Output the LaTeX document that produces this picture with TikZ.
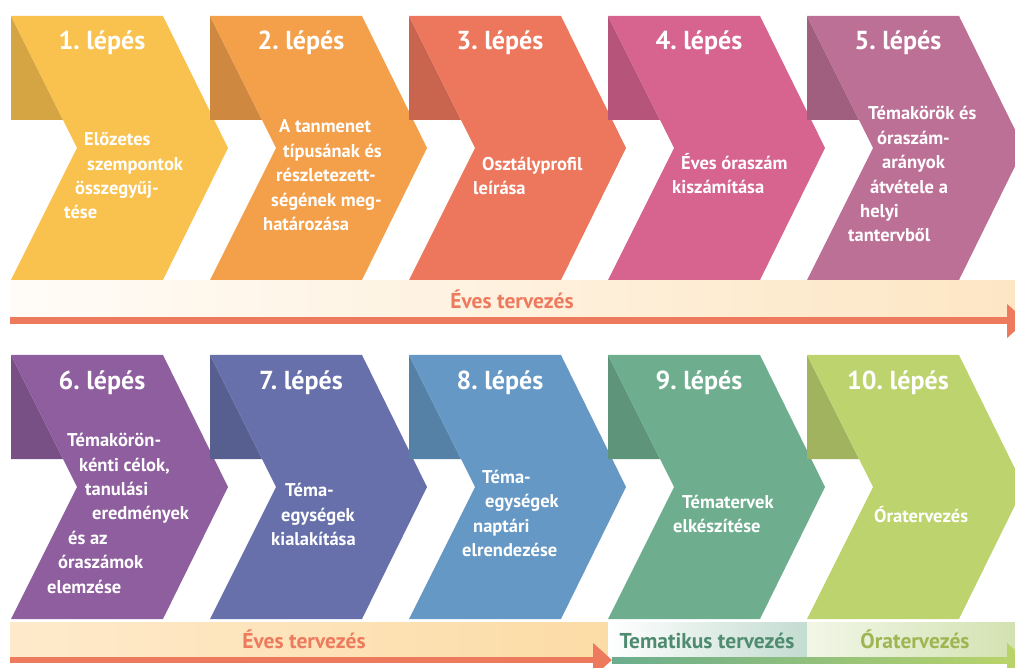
\documentclass[tikz,border=0pt]{standalone}
\usepackage{fontspec}
\setmainfont{PT Sans}
\usetikzlibrary{arrows.meta}

\definecolor{stepA}{HTML}{F9C24E}
\definecolor{stepB}{HTML}{F4A04A}
\definecolor{stepC}{HTML}{EC775D}
\definecolor{stepD}{HTML}{D6648E}
\definecolor{stepE}{HTML}{BD7096}
\definecolor{stepF}{HTML}{8E5E9E}
\definecolor{stepG}{HTML}{6770AA}
\definecolor{stepH}{HTML}{6598C4}
\definecolor{stepI}{HTML}{6EAE8F}
\definecolor{stepJ}{HTML}{BDD36E}
\definecolor{salmon}{HTML}{EE7A5E}
\definecolor{peachA}{HTML}{FFFCF7}
\definecolor{peachB}{HTML}{FDE6C4}
\definecolor{peachC}{HTML}{FEEACB}
\definecolor{peachD}{HTML}{FCDCA6}
\definecolor{tealband}{HTML}{C4DCD1}
\definecolor{tealtext}{HTML}{4F8B70}
\definecolor{tealarrow}{HTML}{6AAD8E}
\definecolor{limeband}{HTML}{D3E2B1}
\definecolor{limetext}{HTML}{9FB552}
\definecolor{limearrow}{HTML}{B8D36A}

\begin{document}
\begin{tikzpicture}[
  x=1pt, y=-1pt,
  stephead/.style={font=\bfseries\fontsize{26}{30}\selectfont, text=white, anchor=base},
  steptext/.style={font=\bfseries\fontsize{18.5}{24.4}\selectfont, text=white,
                   align=left, anchor=base west, inner sep=0pt},
  bandlabel/.style={font=\bfseries\fontsize{21.5}{24}\selectfont, anchor=base},
  planarrow/.style={line width=7pt, -{Triangle[width=33pt,length=19pt]}},
]
\useasboundingbox (0,0) rectangle (1015,668);
\clip (0,0) rectangle (1015,668);

\foreach \x/\y/\c/\n in {11/16/stepA/1, 210/16/stepB/2, 409/16/stepC/3, 608/16/stepD/4,
    807/16/stepE/5, 11/355/stepF/6, 210/355/stepG/7, 409/355/stepH/8, 608/355/stepI/9,
    807/355/stepJ/10}{
  \fill[\c!85!black] (\x,\y) -- ++(0,104) -- ++(52,0) -- cycle;
  \fill[\c] (\x,\y) -- ++(152,0) -- ++(65,132) -- ++(-65,132) -- ++(-152,0)
    -- ++(66,-132) -- cycle;
  \node[stephead] (h\n) at (\x+91,\y+34) {\n.~lépés};
}

\node[steptext] (t1) at (64,219) {\hspace*{20pt}Előzetes\\ \hspace*{23pt}szempontok\\
  \hspace*{11pt}összegyűj-\\ tése};
\node[steptext] (t2) at (263,230.5) {\hspace*{16pt}A tanmenet\\ \hspace*{20pt}típusának és\\
  \hspace*{13pt}részletezett-\\ \hspace*{8pt}ségének meg-\\ határozása};
\node[steptext] (t3) at (473,194.5) {\hspace*{9pt}Osztályprofil\\ leírása};
\node[steptext] (t4) at (672,193.5) {\hspace*{9pt}Éves óraszám\\ kiszámítása};
\node[steptext] (t5) at (848,242) {\hspace*{20pt}Témakörök és\\ \hspace*{29pt}óraszám-\\
  \hspace*{34pt}arányok\\ \hspace*{22pt}átvétele a\\ \hspace*{12pt}helyi\\ tantervből};
\node[steptext] (t6) at (47,593) {\hspace*{20pt}Témakörön-\\ \hspace*{32pt}kénti célok,\\
  \hspace*{38pt}tanulási\\ \hspace*{45pt}eredmények\\ \hspace*{21pt}és az\\
  \hspace*{11pt}óraszámok\\ elemzése};
\node[steptext] (t7) at (271,545.5) {\hspace*{14pt}Téma-\\ \hspace*{10pt}egységek\\ kialakítása};
\node[steptext] (t8) at (462,556.5) {\hspace*{20pt}Téma-\\ \hspace*{23pt}egységek\\
  \hspace*{11pt}naptári\\ elrendezése};
\node[steptext] (t9) at (673,532.5) {\hspace*{9pt}Tématervek\\ elkészítése};
\node[steptext] (t10) at (874,522) {Óratervezés};

\shade[left color=peachA, right color=peachB] (10,281) rectangle (1015,317);
\shade[left color=peachC, right color=peachD] (10,622) rectangle (608,657);
\shade[left color=white, right color=tealband] (608,622) rectangle (807,657);
\shade[left color=white!70!limeband, right color=limeband] (807,622) rectangle (1015,657);

\node[bandlabel, salmon] (ev1) at (512,309) {Éves tervezés};
\node[bandlabel, salmon] (ev2) at (304,648) {Éves tervezés};
\node[bandlabel, tealtext] (tem) at (707,648) {Tematikus tervezés};
\node[bandlabel, limetext] (ora) at (915,648) {Óratervezés};

\coordinate (yrS) at (10,321);
\coordinate (yrE) at (1026,321);
\coordinate (brS) at (10,660);
\coordinate (brE) at (612,660);
\coordinate (grE) at (1026,660);
\draw[planarrow, salmon] (yrS) -- (yrE);
\draw[planarrow, limearrow, line width=6pt] (brE) -- (grE);
\shade[left color=tealarrow, right color=limearrow] (612,657) rectangle (1008,663);
\draw[planarrow, salmon, line width=6pt] (brS) -- (brE);
\end{tikzpicture}
\end{document}
